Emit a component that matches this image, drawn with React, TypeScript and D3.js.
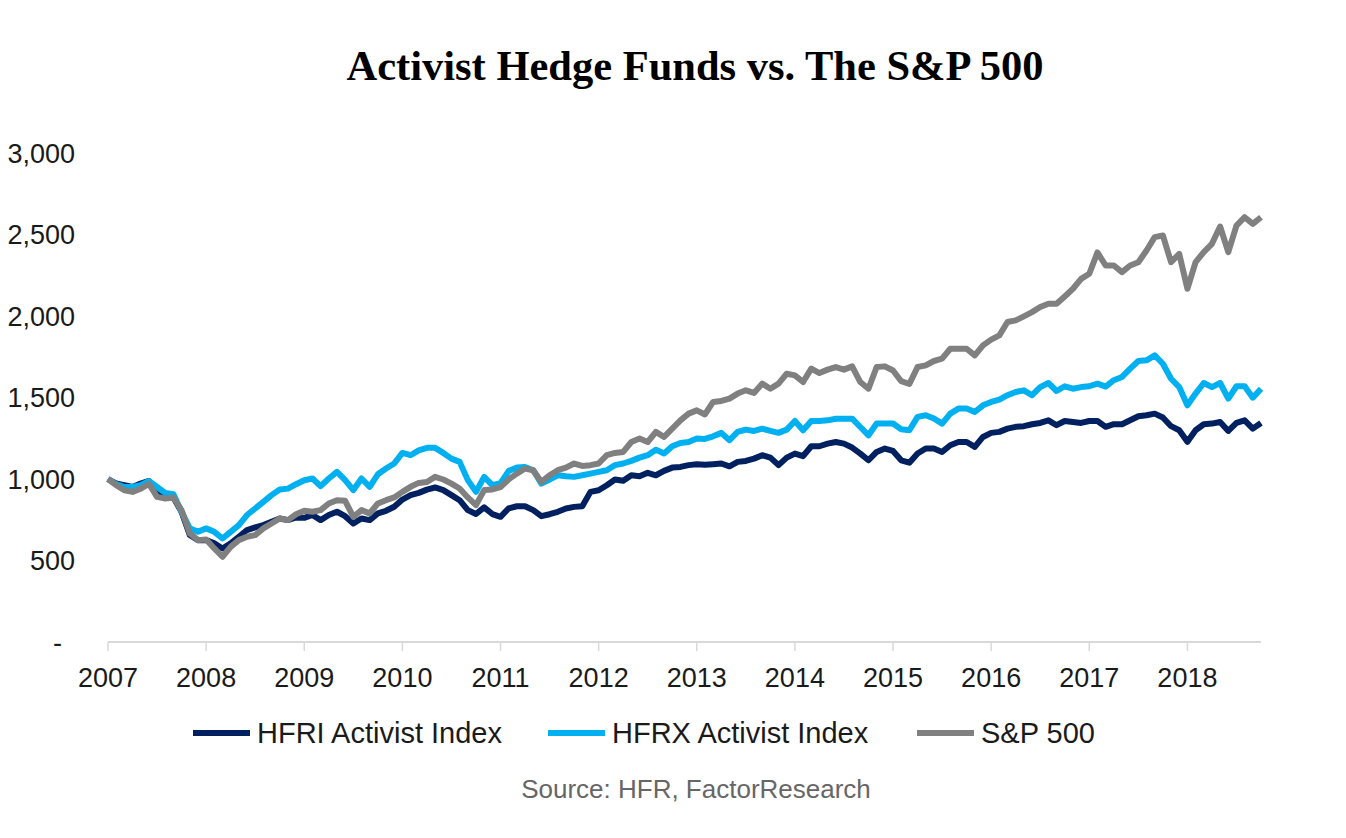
import React, { useEffect, useRef } from 'react';
import * as d3 from 'd3';

// monthly index levels, Jan 2007 .. Oct 2018 (base 1,000)
const hfri = [
  1000, 972, 962, 951, 972, 988, 906, 890, 886, 798, 656, 625,
  625, 605, 574, 605, 646, 687, 703, 717, 738, 758, 748, 764,
  762, 779, 748, 779, 799, 772, 727, 758, 748, 789, 805, 830,
  874, 901, 915, 935, 948, 932, 901, 870, 809, 785, 826, 785,
  768, 820, 833, 833, 809, 772, 784, 799, 819, 829, 833, 921,
  931, 962, 997, 989, 1023, 1017, 1038, 1023, 1050, 1070, 1074, 1085,
  1091, 1088, 1091, 1095, 1078, 1105, 1111, 1125, 1146, 1131, 1085, 1131,
  1156, 1140, 1201, 1201, 1217, 1227, 1217, 1193, 1156, 1115, 1166, 1187,
  1172, 1115, 1100, 1156, 1187, 1187, 1166, 1207, 1227, 1227, 1197, 1258,
  1283, 1289, 1309, 1320, 1324, 1336, 1344, 1360, 1330, 1356, 1350, 1344,
  1356, 1356, 1320, 1336, 1336, 1360, 1385, 1391, 1401, 1377, 1324, 1299,
  1228, 1299, 1336, 1340, 1350, 1295, 1344, 1360, 1309, 1344,
];

const hfrx = [
  1000, 968, 951, 951, 962, 988, 951, 915, 906, 798, 697, 676,
  697, 676, 635, 676, 717, 779, 819, 860, 901, 935, 941, 968,
  992, 1003, 956, 1003, 1044, 993, 932, 1003, 952, 1029, 1064, 1095,
  1160, 1146, 1176, 1191, 1191, 1160, 1125, 1105, 993, 921, 1013, 962,
  975, 1050, 1070, 1074, 1054, 972, 997, 1023, 1017, 1013, 1023, 1033,
  1044, 1054, 1085, 1095, 1111, 1131, 1146, 1180, 1156, 1201, 1221, 1227,
  1248, 1246, 1262, 1283, 1238, 1289, 1303, 1295, 1309, 1295, 1283, 1303,
  1356, 1299, 1356, 1356, 1360, 1370, 1370, 1370, 1319, 1268, 1340, 1340,
  1340, 1305, 1299, 1381, 1391, 1371, 1340, 1401, 1432, 1432, 1411, 1452,
  1473, 1487, 1514, 1534, 1544, 1514, 1564, 1589, 1540, 1569, 1554, 1564,
  1569, 1585, 1567, 1606, 1626, 1677, 1724, 1728, 1758, 1707, 1615, 1564,
  1452, 1524, 1589, 1564, 1589, 1493, 1569, 1569, 1499, 1554,
];

const spx = [
  1000, 962, 931, 921, 941, 970, 890, 880, 886, 808, 666, 625,
  629, 574, 523, 584, 625, 646, 656, 697, 727, 758, 748, 784,
  805, 799, 809, 850, 870, 866, 768, 809, 789, 850, 870, 887,
  921, 952, 976, 982, 1013, 997, 972, 942, 887, 840, 932, 936,
  950, 998, 1033, 1064, 1054, 982, 1023, 1054, 1070, 1095, 1080, 1085,
  1095, 1146, 1160, 1166, 1227, 1248, 1227, 1289, 1258, 1309, 1360, 1401,
  1421, 1396, 1473, 1479, 1493, 1524, 1544, 1528, 1585, 1554, 1585, 1646,
  1636, 1595, 1677, 1650, 1671, 1687, 1671, 1691, 1595, 1554, 1687, 1691,
  1666, 1600, 1583, 1687, 1697, 1724, 1738, 1799, 1799, 1799, 1758, 1820,
  1855, 1881, 1963, 1973, 1998, 2024, 2055, 2075, 2075, 2120, 2167, 2228,
  2259, 2390, 2310, 2310, 2269, 2310, 2330, 2402, 2484, 2494, 2330, 2381,
  2167, 2330, 2392, 2443, 2549, 2392, 2555, 2606, 2565, 2606,
];

const years = ['2007', '2008', '2009', '2010', '2011', '2012', '2013', '2014', '2015', '2016', '2017', '2018'];
const yTicks = [0, 500, 1000, 1500, 2000, 2500, 3000];

const seriesNames = ['HFRI Activist Index', 'HFRX Activist Index', 'S&P 500'];
const seriesColors = ['#002060', '#00b0f0', '#808080'];

export default function App() {
  const svgRef = useRef<SVGSVGElement>(null);

  useEffect(() => {
    if (!svgRef.current) return;
    const svg = d3.select(svgRef.current);
    svg.selectAll('*').remove();

    const width = 1346;
    const height = 838;
    svg.attr('width', width).attr('height', height);

    const x = d3.scaleLinear().domain([0, hfri.length - 1]).range([108, 1261]);
    const y = d3.scaleLinear().domain([0, 3000]).range([642, 153]);

    // title
    svg
      .append('text')
      .attr('x', 695)
      .attr('y', 80)
      .attr('text-anchor', 'middle')
      .style('font-family', '"Liberation Serif", "Times New Roman", serif')
      .style('font-weight', 'bold')
      .style('font-size', '42.5px')
      .style('fill', '#000')
      .text('Activist Hedge Funds vs. The S&P 500');

    // y labels (no axis line, no gridlines)
    svg
      .append('g')
      .selectAll('text')
      .data(yTicks)
      .enter()
      .append('text')
      .attr('x', (d) => (d === 0 ? 62 : 75))
      .attr('y', (d) => y(d))
      .attr('dy', '0.36em')
      .attr('text-anchor', 'end')
      .style('font-family', '"Liberation Sans", Arial, sans-serif')
      .style('font-size', '27px')
      .style('fill', '#1a1a1a')
      .text((d) => (d === 0 ? '-' : d3.format(',')(d)));

    // x axis
    const xAxis = svg.append('g');
    xAxis
      .append('line')
      .attr('x1', x(0))
      .attr('x2', x(hfri.length - 1))
      .attr('y1', y(0))
      .attr('y2', y(0))
      .attr('stroke', '#d9d9d9')
      .attr('stroke-width', 2);

    xAxis
      .selectAll('.tick')
      .data(years)
      .enter()
      .append('line')
      .attr('class', 'tick')
      .attr('x1', (_, i) => x(i * 12))
      .attr('x2', (_, i) => x(i * 12))
      .attr('y1', y(0))
      .attr('y2', y(0) + 9)
      .attr('stroke', '#d9d9d9')
      .attr('stroke-width', 1.5);

    xAxis
      .selectAll('.label')
      .data(years)
      .enter()
      .append('text')
      .attr('class', 'label')
      .attr('x', (_, i) => x(i * 12))
      .attr('y', 687)
      .attr('text-anchor', 'middle')
      .style('font-family', '"Liberation Sans", Arial, sans-serif')
      .style('font-size', '27px')
      .style('fill', '#1a1a1a')
      .text((d) => d);

    // lines, S&P drawn last so it sits on top
    const line = d3
      .line<number>()
      .x((_, i) => x(i))
      .y((d) => y(d));

    [hfri, hfrx, spx].forEach((s, k) => {
      svg
        .append('path')
        .datum(s)
        .attr('d', line)
        .attr('fill', 'none')
        .attr('stroke', seriesColors[k])
        .attr('stroke-width', 6)
        .attr('stroke-linejoin', 'round');
    });

    // legend
    const legendX = [193, 548, 917];
    const legend = svg
      .append('g')
      .selectAll('g')
      .data(seriesNames)
      .enter()
      .append('g')
      .attr('transform', (_, i) => `translate(${legendX[i]},733)`);

    legend
      .append('line')
      .attr('x1', 0)
      .attr('x2', 57)
      .attr('stroke', (_, i) => seriesColors[i])
      .attr('stroke-width', 6);

    legend
      .append('text')
      .attr('x', 64)
      .attr('dy', '0.36em')
      .style('font-family', '"Liberation Sans", Arial, sans-serif')
      .style('font-size', '29px')
      .style('fill', '#1a1a1a')
      .text((d) => d);

    // source
    svg
      .append('text')
      .attr('x', 696)
      .attr('y', 798)
      .attr('text-anchor', 'middle')
      .style('font-family', '"Liberation Sans", Arial, sans-serif')
      .style('font-size', '26px')
      .style('fill', '#666')
      .text('Source: HFR, FactorResearch');
  }, []);

  return (
    <div style={{ position: 'absolute', left: 0, top: 0, background: '#fff' }}>
      <svg ref={svgRef} style={{ display: 'block' }}></svg>
    </div>
  );
}
